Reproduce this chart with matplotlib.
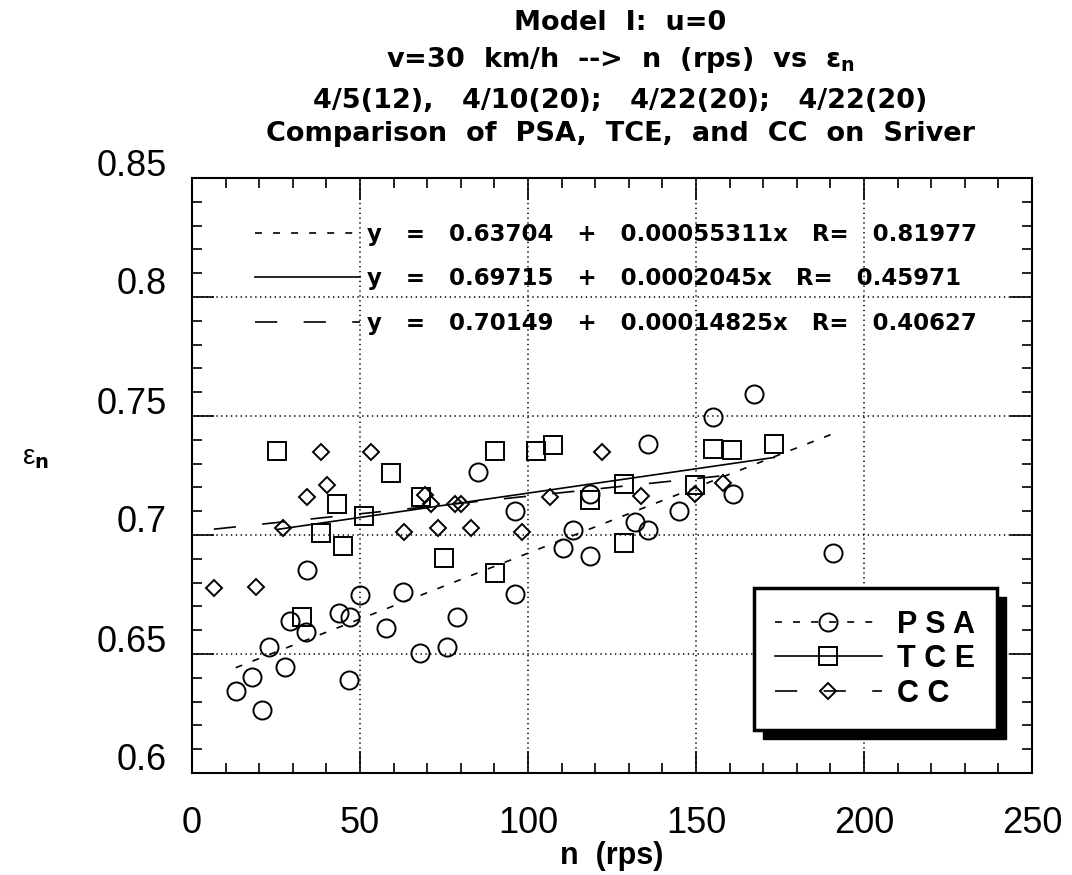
import numpy as np
import matplotlib
matplotlib.use('Agg')
import matplotlib.pyplot as plt
from matplotlib.lines import Line2D
from matplotlib.patches import Rectangle
from matplotlib.transforms import ScaledTranslation, IdentityTransform
from matplotlib.ticker import MultipleLocator

# PSA (circles)
psa_n = [13.0, 18.0, 20.9, 22.9, 27.6, 29.1, 34.0, 34.2, 43.8, 46.9, 46.7, 49.9,
         57.6, 62.8, 67.9, 75.9, 78.9, 85.1, 96.0, 96.0, 110.4, 113.4, 118.4, 118.4,
         131.7, 135.6, 135.8, 145.0, 155.0, 160.9, 167.3, 190.8]
psa_e = [0.6343, 0.6403, 0.6263, 0.6528, 0.6447, 0.6639, 0.6594, 0.6853, 0.6674, 0.6654, 0.6391, 0.6748,
         0.6608, 0.6759, 0.6506, 0.6531, 0.6657, 0.7265, 0.6751, 0.7100, 0.6944, 0.7021, 0.6913, 0.7174,
         0.7056, 0.7021, 0.7381, 0.7101, 0.7496, 0.7174, 0.7591, 0.6923]

# TCE (squares)
tce_n = [25.4, 32.8, 38.3, 43.3, 44.9, 51.1, 59.1, 68.3, 75.0, 90.1,
         90.1, 102.5, 107.4, 118.4, 128.7, 128.7, 149.8, 155.0, 160.7, 173.3]
tce_e = [0.7352, 0.6657, 0.7007, 0.7132, 0.6955, 0.7081, 0.7262, 0.7160, 0.6902, 0.6839,
         0.7353, 0.7353, 0.7377, 0.7146, 0.7213, 0.6968, 0.7210, 0.7360, 0.7356, 0.7381]

# CC (diamonds)
cc_n = [6.5, 19.1, 27.1, 34.3, 38.3, 40.3, 53.2, 63.1, 69.2, 71.0,
        73.2, 78.2, 80.2, 83.1, 98.3, 106.6, 122.0, 133.7, 149.8, 157.9]
cc_e = [0.6776, 0.6783, 0.7028, 0.7160, 0.7349, 0.7209, 0.7349, 0.7011, 0.7167, 0.7132,
        0.7028, 0.7132, 0.7132, 0.7028, 0.7011, 0.7160, 0.7350, 0.7164, 0.7171, 0.7220]

# fits (intercept, slope, R) as printed on the chart
fit_psa = (0.63704, 0.00055311, 0.81977)
fit_tce = (0.69715, 0.0002045, 0.45971)
fit_cc = (0.70149, 0.00014825, 0.40627)

labels = ['P S A', 'T C E', 'C C']
title_lines = ['Model  I:  u=0',
               r'v=30  km/h  -->  n  (rps)  vs  ε$_\mathrm{n}$',
               '4/5(12),   4/10(20);   4/22(20);   4/22(20)',
               'Comparison  of  PSA,  TCE,  and  CC  on  Sriver']

plt.rcParams['font.family'] = ['Liberation Sans', 'DejaVu Sans']
plt.rcParams['mathtext.fontset'] = 'custom'
plt.rcParams['mathtext.rm'] = 'DejaVu Sans:bold'
plt.rcParams['mathtext.it'] = 'DejaVu Sans:italic'
plt.rcParams['mathtext.bf'] = 'DejaVu Sans:bold'
plt.rcParams['lines.scale_dashes'] = False

W, H = 1072, 875
fig = plt.figure(figsize=(W / 100, H / 100), dpi=100)
ax = fig.add_axes([192 / W, (H - 773) / H, 840 / W, 595 / H])

short_dash = (0, (5, 8))
long_dash = (0, (16, 19))
mk = dict(markerfacecolor='none', markeredgecolor='black', markeredgewidth=1.4, linestyle='none')

def fit_line(n, fit):
    xs = np.array([min(n), max(n)])
    return xs, fit[0] + fit[1] * xs

x, y = fit_line(psa_n, fit_psa)
ax.plot(x, y, color='black', lw=1.2, linestyle=short_dash)
x, y = fit_line(tce_n, fit_tce)
ax.plot(x, y, color='black', lw=1.2, linestyle='-')
x, y = fit_line(cc_n, fit_cc)
ax.plot(x, y, color='black', lw=1.2, linestyle=long_dash)

ax.plot(psa_n, psa_e, marker='o', markersize=13, **mk)
ax.plot(tce_n, tce_e, marker='s', markersize=13, **mk)
ax.plot(cc_n, cc_e, marker='D', markersize=8.5, **mk)

ax.set_xlim(0, 250)
ax.set_ylim(0.6, 0.85)
ax.xaxis.set_major_locator(MultipleLocator(50))
ax.xaxis.set_minor_locator(MultipleLocator(10))
ax.yaxis.set_minor_locator(MultipleLocator(0.01))
ax.set_yticks([0.6, 0.65, 0.7, 0.75, 0.8, 0.85])
ax.set_yticklabels(['0.6', '0.65', '0.7', '0.75', '0.8', '0.85'])
ax.tick_params(which='both', direction='in', top=True, right=True, width=1.2)
ax.tick_params(which='major', length=16, labelsize=26)
ax.tick_params(which='minor', length=7)
ax.tick_params(axis='x', pad=24)
ax.tick_params(axis='y', pad=18)
for lab in ax.get_yticklabels():
    lab.set_transform(lab.get_transform() + ScaledTranslation(0, 0.16, fig.dpi_scale_trans))
ax.grid(True, which='major', linestyle=(0, (1, 2.5)), color='black', lw=1.1)
for s in ax.spines.values():
    s.set_linewidth(1.5)

# series legend
handles = [Line2D([], [], color='black', lw=1.2, linestyle=short_dash, marker='o', markersize=13,
                  markerfacecolor='none', markeredgewidth=1.4),
           Line2D([], [], color='black', lw=1.2, linestyle='-', marker='s', markersize=13,
                  markerfacecolor='none', markeredgewidth=1.4),
           Line2D([], [], color='black', lw=1.2, linestyle=long_dash, marker='D', markersize=8.5,
                  markerfacecolor='none', markeredgewidth=1.4)]
leg = ax.legend(handles, labels, loc='lower right', bbox_to_anchor=(0.958, 0.072),
                borderaxespad=0, fancybox=False, framealpha=1, edgecolor='black',
                prop={'weight': 'bold', 'size': 22}, handlelength=3.5, handletextpad=0.5,
                labelspacing=0.15, borderpad=0.7)
leg.get_frame().set_linewidth(2.5)
leg.set_zorder(5)

# equation legend
eq_handles = [Line2D([], [], color='black', lw=1.2, linestyle=short_dash),
              Line2D([], [], color='black', lw=1.2, linestyle='-'),
              Line2D([], [], color='black', lw=1.2, linestyle=long_dash)]
eq_labels = ['y   =   %.5f   +   %.8gx   R=   %.5f' % f for f in (fit_psa, fit_tce, fit_cc)]
ax.add_artist(leg)
leg2 = ax.legend(eq_handles, eq_labels, loc='upper left', bbox_to_anchor=(0.075, 0.925),
                 borderaxespad=0, borderpad=0, frameon=False,
                 prop={'family': 'DejaVu Sans', 'weight': 'bold', 'size': 16.5},
                 handlelength=4.6, handletextpad=0.3, labelspacing=0.95)

# titles and axis labels
ys = [23, 60, 101, 134]
for t, yy in zip(title_lines, ys):
    fig.text(620 / W, 1 - yy / H, t, ha='center', va='center', fontsize=19.5,
             fontweight='bold', family='DejaVu Sans')
fig.text(612 / W, 1 - 856 / H, 'n  (rps)', ha='center', va='center', fontsize=22, fontweight='bold')
fig.text(36 / W, 1 - 458 / H, r'ε$_\mathrm{n}$', ha='center', va='center', fontsize=20)

# drop shadow behind legend
fig.canvas.draw()
bb = leg.get_window_extent()
sh = Rectangle((bb.x0 + 9, bb.y0 - 9), bb.width, bb.height, transform=IdentityTransform(),
               facecolor='black', edgecolor='black', zorder=4.5, clip_on=False)
ax.add_patch(sh)

fig.savefig('out.png', dpi=100, facecolor='white')
